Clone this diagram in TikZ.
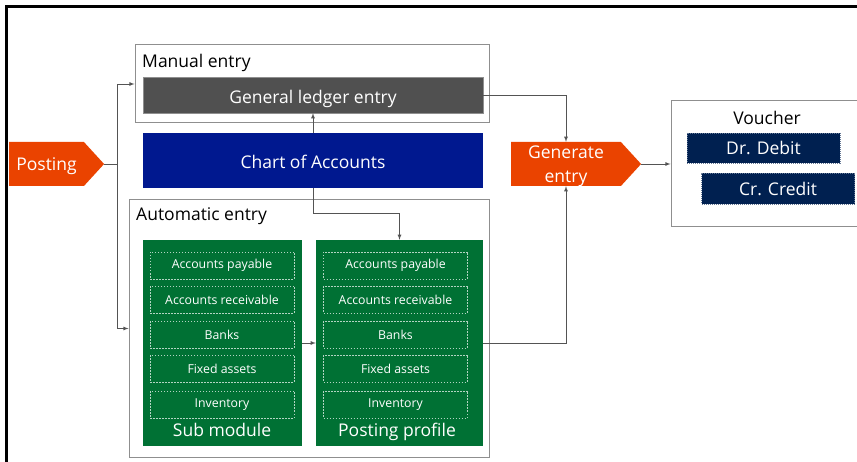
\documentclass[tikz,border=0pt]{standalone}
\usepackage{fontspec}
\setmainfont{Open Sans}
\usetikzlibrary{shapes.symbols}
\newlength{\du}
\setlength{\du}{1pt}
\definecolor{framegray}{rgb}{0.560000, 0.560000, 0.560000}
\definecolor{wiregray}{rgb}{0.330000, 0.330000, 0.330000}
\definecolor{postingorange}{rgb}{0.917647, 0.262745, 0.000000}
\definecolor{ledgergray}{rgb}{0.313725, 0.313725, 0.313725}
\definecolor{chartblue}{rgb}{0.000000, 0.094118, 0.560784}
\definecolor{modulegreen}{rgb}{0.000000, 0.443137, 0.203922}
\definecolor{vouchernavy}{rgb}{0.000000, 0.125490, 0.313725}
\tikzset{
  groupbox/.style={draw=framegray, line width=1\du, inner sep=0pt},
  fillbox/.style={inner sep=0pt, text=white, text height=17pt, text depth=0pt, font=\fontsize{17.5}{21}\selectfont},
  navybox/.style={inner sep=0pt, text=white, fill=vouchernavy, draw=white!40!vouchernavy,
    dash pattern=on 1\du off 1\du, minimum width=153\du, font=\fontsize{17.5}{21}\selectfont},
  itembox/.style={draw=white!70!modulegreen, line width=0.6\du, dash pattern=on 1.5\du off 1.5\du,
    inner sep=0pt, minimum width=144\du, minimum height=27\du, text=white, font=\fontsize{12.3}{15}\selectfont},
  arrowhead/.style={shape=signal, signal to=east, signal pointer angle=95, fill=postingorange,
    inner sep=0pt, text=white, text depth=0pt, font=\fontsize{17.5}{24}\selectfont, align=center},
  wire/.style={draw=wiregray, line width=0.8\du, -latex},
  grouptitle/.style={inner sep=0pt, font=\fontsize{17.5}{21}\selectfont},
}

\begin{document}
\begin{tikzpicture}
\pgftransformxscale{1.000000}
\pgftransformyscale{-1.000000}
\clip (0\du,0\du) rectangle (857\du,462\du);
\fill[white] (0\du,0\du) rectangle (857\du,462\du);
% outer frame
\draw[line width=3\du, black] (6.5\du,462\du)--(6.5\du,7\du)--(857\du,7\du);

% manual entry
\node[groupbox, minimum width=354\du, minimum height=78\du] (manual) at (312\du,84\du){};
\node[grouptitle, anchor=west] (manualtitle) at (142\du,63\du){Manual entry};
\node[fillbox, fill=ledgergray, draw=framegray, minimum width=340\du, minimum height=36\du] (ledger) at (313\du,95\du){General ledger entry};
\node[fillbox, fill=chartblue, minimum width=340\du, minimum height=55\du] (chart) at (313\du,160.5\du){Chart of Accounts};

% automatic entry
\node[groupbox, minimum width=360\du, minimum height=257\du] (auto) at (309\du,328.5\du){};
\node[grouptitle, anchor=west] (autotitle) at (136\du,216\du){Automatic entry};
\node[fill=modulegreen, minimum width=159\du, minimum height=206\du, inner sep=0pt] (submodule) at (222.5\du,343\du){};
\node[fill=modulegreen, minimum width=167\du, minimum height=206\du, inner sep=0pt] (profile) at (399.5\du,343\du){};
\foreach \name/\y/\txt in {payable/265.5/Accounts payable, receivable/299.5/Accounts receivable,
    banks/334.5/Banks, fixed/368.5/Fixed assets, inventory/404.5/Inventory}{
  \node[itembox] (sub\name) at (222\du,\y\du){\txt};
  \node[itembox] (prof\name) at (395.5\du,\y\du){\txt};
}
\node[fillbox] (subtitle) at (222\du,428\du){Sub module};
\node[fillbox] (proftitle) at (397\du,428\du){Posting profile};

% signals
\node[arrowhead, minimum width=95\du, minimum height=44\du] (posting) at (46.5\du,164\du){Posting};
\node[arrowhead, minimum width=130\du, minimum height=44\du] (generate) at (566\du,164\du){Generate\\entry};

% voucher
\node[groupbox, minimum width=209\du, minimum height=126\du] (voucher) at (775.5\du,164\du){};
\node[grouptitle] (vouchertitle) at (767\du,118\du){Voucher};
\node[navybox, minimum height=30\du] (debit) at (763.5\du,148\du){Dr. Debit};
\node[navybox, minimum height=31\du] (credit) at (778\du,189\du){Cr. Credit};

% connectors
\coordinate (split) at (117\du,164\du);
\draw[draw=wiregray, line width=0.8\du] (posting.east)--(split);
\draw[wire] (split)|-(manual.west);
\draw[wire] (split)|-(auto.west);
\draw[wire] (chart.north)--(ledger.south);
\draw[wire] (chart.south)--++(0\du,25\du)-|(profile.north);
\draw[wire] (ledger.east)-|(generate.north);
\draw[wire] (submodule.east)--(profile.west);
\draw[wire] (profile.east)-|(generate.south);
\draw[wire] (generate.east)--(voucher.west);
\end{tikzpicture}
\end{document}
